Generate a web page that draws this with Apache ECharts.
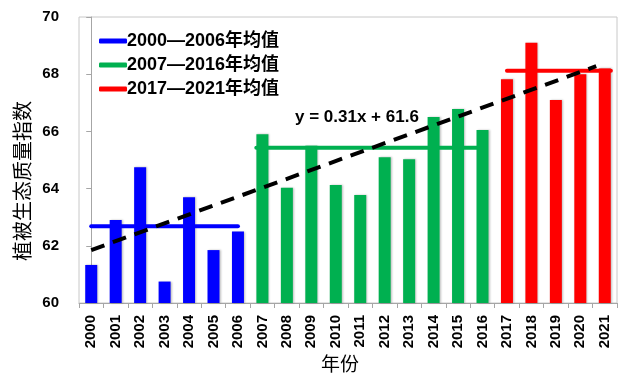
<!DOCTYPE html>
<html>
<head>
<meta charset="utf-8">
<script src="https://cdn.jsdelivr.net/npm/echarts@6/dist/echarts.min.js"></script>
<style>html,body{margin:0;padding:0;background:#fff;}#c{width:641px;height:380px;}</style>
</head>
<body>
<div id="c"></div>
<script>
var years = ['2000','2001','2002','2003','2004','2005','2006','2007','2008','2009','2010','2011','2012','2013','2014','2015','2016','2017','2018','2019','2020','2021'];
var values = [61.33,62.9,64.75,60.75,63.7,61.85,62.5,65.9,64.03,65.5,64.13,63.78,65.1,65.03,66.5,66.78,66.05,67.82,69.1,67.1,68.0,68.2];
var groupNames = ['2000—2006年均值','2007—2016年均值','2017—2021年均值'];
var groupColors = ['#0000FF','#00B050','#FF0000'];
var groupFirst = [0, 7, 17];
var groupLast = [6, 16, 21];
var groupMeans = [62.68, 65.43, 68.12];
var meanSpanStart = [0, 6.75, 17];
var meanSpanEnd = [6, 16, 21.25];
var trendX = [0, 20.65];
var trendY = [61.85, 68.28];
var equation = 'y = 0.31x + 61.6';
var yTicks = {min: 60, max: 70, interval: 2};

function colorFor(i){
  for (var g = 0; g < groupFirst.length; g++) {
    if (i >= groupFirst[g] && i <= groupLast[g]) return groupColors[g];
  }
  return '#888';
}
var barData = values.map(function(v, i){
  return {value: v, itemStyle: {color: colorFor(i)}};
});
var numFont = '"Liberation Sans", Arial, sans-serif';
var cjkFont = '"Noto Sans CJK SC", sans-serif';

var series = [{
  type: 'bar',
  xAxisIndex: 0, yAxisIndex: 0,
  data: barData,
  barWidth: 12,
  itemStyle: {shadowColor: 'rgba(0,0,0,0.25)', shadowBlur: 2, shadowOffsetX: 1, shadowOffsetY: 0},
  z: 2
}];
groupNames.forEach(function(n, g){
  series.push({
    name: n,
    type: 'line',
    xAxisIndex: 1, yAxisIndex: 0,
    data: [[meanSpanStart[g], groupMeans[g]], [meanSpanEnd[g], groupMeans[g]]],
    symbol: 'none',
    color: groupColors[g],
    lineStyle: {width: 4, color: groupColors[g], cap: 'round'},
    z: 3
  });
});
series.push({
  type: 'line',
  xAxisIndex: 1, yAxisIndex: 0,
  data: [[trendX[0], trendY[0]], [trendX[1], trendY[1]]],
  symbol: 'none',
  lineStyle: {width: 4, color: '#000', type: [14, 9]},
  z: 4
});

var chart = echarts.init(document.getElementById('c'), null, {renderer: 'canvas'});
chart.setOption({
  animation: false,
  backgroundColor: '#fff',
  grid: {left: 79, right: 24, top: 17, bottom: 77, show: true, borderColor: '#c8c8c8', borderWidth: 1, backgroundColor: 'transparent'},
  legend: {
    data: groupNames,
    orient: 'vertical',
    left: 94, top: 27,
    icon: 'roundRect',
    itemWidth: 28, itemHeight: 5,
    itemGap: 6,
    textStyle: {fontFamily: numFont + ',' + cjkFont, fontWeight: 'bold', fontSize: 18, color: '#000', lineHeight: 18, padding: [0,0,0,-5]}
  },
  xAxis: [{
    type: 'category',
    data: years,
    axisLine: {lineStyle: {color: '#a6a6a6', width: 1}},
    axisTick: {show: true, alignWithLabel: false, length: 5, lineStyle: {color: '#a6a6a6'}},
    axisLabel: {rotate: 90, margin: 12, interval: 0, fontFamily: numFont, fontWeight: 'bold', fontSize: 15, color: '#000'}
  }, {
    type: 'value', min: -0.5, max: 21.5, show: false
  }],
  yAxis: [{
    type: 'value',
    min: yTicks.min, max: yTicks.max, interval: yTicks.interval,
    axisLine: {show: true, lineStyle: {color: '#a6a6a6', width: 1}},
    axisTick: {show: true, length: 5, lineStyle: {color: '#a6a6a6'}},
    splitLine: {show: false},
    axisLabel: {margin: 20, fontFamily: numFont, fontWeight: 'bold', fontSize: 15, color: '#000'}
  }],
  graphic: [{
    type: 'text', left: 295, top: 109,
    style: {text: equation, font: 'bold 17px ' + numFont, fill: '#000'}
  }, {
    type: 'text', x: 22, y: 181, rotation: Math.PI / 2,
    style: {text: '植被生态质量指数', font: '20px ' + cjkFont, fill: '#000', align: 'center', verticalAlign: 'middle'}
  }, {
    type: 'text', x: 340, y: 364,
    style: {text: '年份', font: '19px ' + cjkFont, fill: '#000', align: 'center', verticalAlign: 'middle'}
  }],
  series: series
});
</script>
</body>
</html>
